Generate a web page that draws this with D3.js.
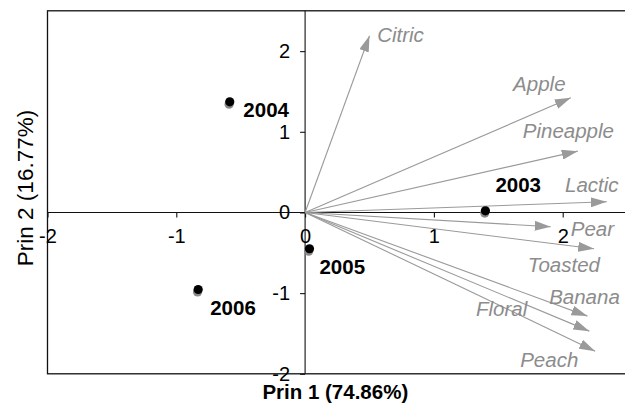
<!DOCTYPE html>
<html>
<head>
<meta charset="utf-8">
<script src="https://cdn.jsdelivr.net/npm/d3@7"></script>
<style>
  html, body { margin: 0; padding: 0; background: #fff; }
  svg { display: block; }
  text { font-family: "Liberation Sans", Arial, Helvetica, sans-serif; }
</style>
</head>
<body>
<svg id="chart" width="625" height="405"></svg>
<script>
// ---- data ----
const years = ["2003", "2004", "2005", "2006"];
const scoreX = [1.40, -0.585, 0.034, -0.83];
const scoreY = [0.02, 1.372, -0.45, -0.955];
// replicate (grey, slightly offset) scores
const repX = [1.395, -0.59, 0.028, -0.835];
const repY = [-0.008, 1.342, -0.48, -0.985];

const attributes = ["Citric", "Apple", "Pineapple", "Lactic", "Pear", "Toasted", "Banana", "Floral", "Peach"];
const loadX = [0.50, 2.063, 2.117, 2.342, 1.907, 2.244, 2.192, 2.207, 2.252];
const loadY = [2.19, 1.421, 0.760, 0.133, -0.177, -0.450, -1.285, -1.471, -1.719];

const xTicks = [-2, -1, 0, 1, 2];
const yTicks = [-2, -1, 0, 1, 2];
const xTitle = "Prin 1 (74.86%)";
const yTitle = "Prin 2 (16.77%)";

// ---- label placement (pixel offsets from mark) ----
const yearLabelOffset = { "2003": [10, -18.5], "2004": [13.6, 15], "2005": [10, 25], "2006": [12, 25] };
const attrLabelOffset = {
  Citric: [7.7, 6], Apple: [-57.7, -7.3], Pineapple: [-55, -12.7], Lactic: [-41.7, -9.3],
  Pear: [20, 9.7], Toasted: [-66.3, 23.7], Banana: [-38.3, -11.7], Floral: [-113.3, -15.2], Peach: [-75, 16.3]
};

// ---- layout ----
const svg = d3.select("#chart");
const pLeft = 47.5, pTop = 10.8, pRight = 627.1, pBottom = 373.8;
const x = d3.scaleLinear().domain([-2, 2.5]).range([pLeft, pRight]);
const y = d3.scaleLinear().domain([-2, 2.5]).range([pBottom, pTop]);

const arrowGrey = "#9a9a9a";
const textGrey = "#8c8c8c";

svg.append("defs").append("marker")
  .attr("id", "ah")
  .attr("viewBox", "0 0 16 10")
  .attr("refX", 16).attr("refY", 5)
  .attr("markerWidth", 16).attr("markerHeight", 10)
  .attr("markerUnits", "userSpaceOnUse")
  .attr("orient", "auto")
  .append("path").attr("d", "M0,0 L16,5 L0,10 Z").attr("fill", arrowGrey);

// box
svg.append("rect")
  .attr("x", pLeft).attr("y", pTop)
  .attr("width", pRight - pLeft).attr("height", pBottom - pTop)
  .attr("fill", "none").attr("stroke", "#111").attr("stroke-width", 1.3);

// zero lines
svg.append("line").attr("x1", pLeft).attr("x2", pRight).attr("y1", y(0)).attr("y2", y(0))
  .attr("stroke", "#111").attr("stroke-width", 1.1);
svg.append("line").attr("x1", x(0)).attr("x2", x(0)).attr("y1", pTop).attr("y2", pBottom)
  .attr("stroke", "#111").attr("stroke-width", 1.1);

// axes
const xAxis = svg.append("g").attr("transform", `translate(0,${y(0)})`)
  .call(d3.axisBottom(x).tickValues(xTicks).tickSize(5).tickPadding(11).tickFormat(d3.format("d")));
const yAxis = svg.append("g").attr("transform", `translate(${x(0)},0)`)
  .call(d3.axisLeft(y).tickValues(yTicks).tickSize(5).tickPadding(10).tickFormat(d3.format("d")));
[xAxis, yAxis].forEach(g => {
  g.select(".domain").remove();
  g.selectAll(".tick line").attr("stroke", "#111").attr("stroke-width", 1.1);
  g.selectAll(".tick text").attr("font-size", 20).attr("fill", "#000")
    .style("font-family", '"Liberation Sans", Arial, sans-serif')
    .text(d => d < 0 ? "-" + Math.abs(d) : d);
});

// arrows
const vecs = attributes.map((a, i) => ({ name: a, vx: loadX[i], vy: loadY[i] }));
svg.append("g").selectAll("line").data(vecs).join("line")
  .attr("x1", x(0)).attr("y1", y(0))
  .attr("x2", d => x(d.vx)).attr("y2", d => y(d.vy))
  .attr("stroke", arrowGrey).attr("stroke-width", 1.1)
  .attr("marker-end", "url(#ah)");
svg.append("g").selectAll("text").data(vecs).join("text")
  .attr("x", d => x(d.vx) + attrLabelOffset[d.name][0])
  .attr("y", d => y(d.vy) + attrLabelOffset[d.name][1])
  .attr("font-size", 20.5).attr("font-style", "italic").attr("fill", textGrey)
  .text(d => d.name);

// points
const pts = years.map((yr, i) => ({ yr, sx: scoreX[i], sy: scoreY[i], rx: repX[i], ry: repY[i] }));
svg.append("g").selectAll("circle").data(pts).join("circle")
  .attr("cx", d => x(d.rx)).attr("cy", d => y(d.ry)).attr("r", 4.6).attr("fill", "#8a8a8a");
svg.append("g").selectAll("circle").data(pts).join("circle")
  .attr("cx", d => x(d.sx)).attr("cy", d => y(d.sy)).attr("r", 4.6).attr("fill", "#000");
svg.append("g").selectAll("text").data(pts).join("text")
  .attr("x", d => x(d.sx) + yearLabelOffset[d.yr][0])
  .attr("y", d => y(d.sy) + yearLabelOffset[d.yr][1])
  .attr("font-size", 20.5).attr("font-weight", "bold").attr("fill", "#000")
  .text(d => d.yr);

// titles
svg.append("text").attr("x", (pLeft + pRight) / 2 - 2).attr("y", 399)
  .attr("text-anchor", "middle").attr("font-size", 20.5).attr("font-weight", "bold")
  .text(xTitle);
svg.append("text").attr("transform", `translate(33,188) rotate(-90)`)
  .attr("text-anchor", "middle").attr("font-size", 22.5)
  .text(yTitle);
</script>
</body>
</html>
